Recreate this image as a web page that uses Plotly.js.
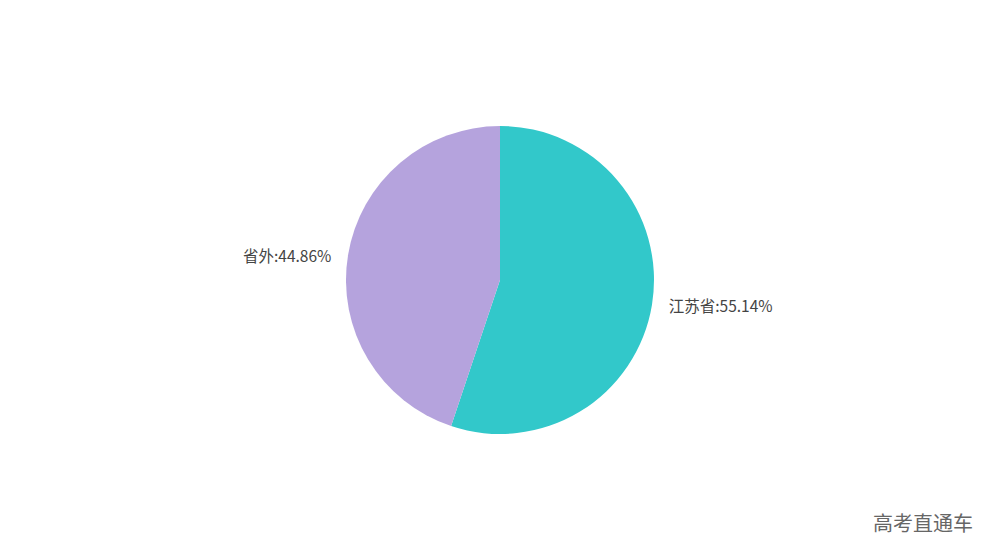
<!DOCTYPE html>
<html>
<head>
<meta charset="utf-8">
<script src="https://cdn.plot.ly/plotly-3.0.1.min.js"></script>
<style>html,body{margin:0;padding:0;background:#fff;}#chart{width:1000px;height:560px;}</style>
</head>
<body>
<div id="chart"></div>
<script>
const categories = ["江苏省", "省外"];
const values = [55.14, 44.86];
const colors = ["#32C8CA", "#B5A3DD"];
const watermark = "高考直通车";

const trace = {
  type: "pie",
  labels: categories,
  values: values,
  sort: false,
  direction: "clockwise",
  rotation: 0,
  marker: {colors: colors, line: {width: 0}},
  textposition: "outside",
  texttemplate: ["\u2002 %{label}:%{value:.2f}%", "%{label}:%{value:.2f}%\u2002 "],
  textfont: {family: "Noto Sans CJK SC, sans-serif", size: 15.5, color: "#444"},
  hoverinfo: "label+value",
  showlegend: false,
  domain: {x: [0.346, 0.654], y: [0.225, 0.775]}
};

const layout = {
  width: 1000, height: 560,
  margin: {l: 0, r: 0, t: 0, b: 0},
  paper_bgcolor: "#fff",
  showlegend: false,
  annotations: [{
    text: watermark, xref: "paper", yref: "paper", x: 0.975, y: 0.038,
    xanchor: "right", yanchor: "bottom", showarrow: false,
    font: {family: "Noto Sans CJK SC, sans-serif", size: 20, color: "#666"}
  }]
};

Plotly.newPlot("chart", [trace], layout, {displayModeBar: false, staticPlot: true});
</script>
</body>
</html>
